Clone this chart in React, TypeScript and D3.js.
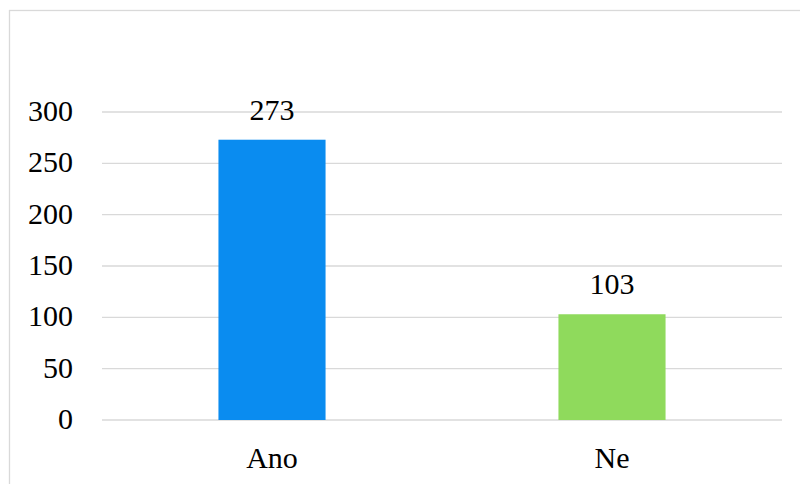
import React from "react";
import * as d3 from "d3";

const categories = ["Ano", "Ne"];
const values = [273, 103];
const colors = ["#0A8CF0", "#8FDA5C"];
const yTicks = [0, 50, 100, 150, 200, 250, 300];

const W = 800;
const H = 484;

export default function App() {
  const x = d3.scaleBand().domain(categories).range([102, 782]).paddingInner(0.685).paddingOuter(0.3425);
  const y = d3.scaleLinear().domain([0, 300]).range([420, 112]);
  const bw = x.bandwidth();

  return (
    <div>
      <svg width={W} height={H} style={{ position: "absolute", left: 0, top: 0, background: "#fff" }}>
        <rect x={9.5} y={10.5} width={W + 20} height={H + 20} fill="#fff" stroke="#d9d9d9" strokeWidth={1.3} />
        {yTicks.map((t) => (
          <line key={"g" + t} x1={102} x2={782} y1={y(t)} y2={y(t)} stroke="#d9d9d9" strokeWidth={1.3} />
        ))}
        {categories.map((c, i) => (
          <rect key={"b" + c} x={x(c)} y={y(values[i])} width={bw} height={y(0) - y(values[i])} fill={colors[i]} />
        ))}
        {yTicks.map((t) => (
          <text key={"t" + t} x={73} y={y(t) + 9} textAnchor="end" fontFamily="Liberation Serif" fontSize={30} style={{ fontFamily: '"Liberation Serif"', fontSize: "30px" }}>
            {String(t)}
          </text>
        ))}
        {categories.map((c, i) => (
          <text key={"v" + c} x={(x(c) as number) + bw / 2} y={y(values[i]) - 20} textAnchor="middle" fontFamily="Liberation Serif" fontSize={30} style={{ fontFamily: '"Liberation Serif"', fontSize: "30px" }}>
            {String(values[i])}
          </text>
        ))}
        {categories.map((c) => (
          <text key={"c" + c} x={(x(c) as number) + bw / 2} y={468} textAnchor="middle" fontFamily="Liberation Serif" fontSize={30} style={{ fontFamily: '"Liberation Serif"', fontSize: "30px" }}>
            {c}
          </text>
        ))}
      </svg>
    </div>
  );
}
